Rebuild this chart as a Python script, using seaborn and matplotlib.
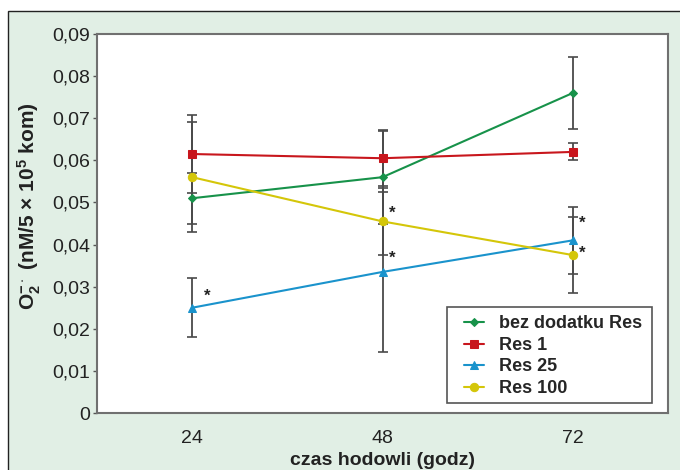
import matplotlib
matplotlib.use("Agg")
import matplotlib.pyplot as plt
from matplotlib.patches import Rectangle
from matplotlib.ticker import FuncFormatter, MultipleLocator
import pandas as pd
import seaborn as sns

hours = [24, 48, 72]
series = ["bez dodatku Res", "Res 1", "Res 25", "Res 100"]
values = {
    "bez dodatku Res": [0.051, 0.056, 0.076],
    "Res 1": [0.0615, 0.0605, 0.062],
    "Res 25": [0.025, 0.0335, 0.041],
    "Res 100": [0.056, 0.0455, 0.0375],
}
errors = {
    "bez dodatku Res": [0.006, 0.011, 0.0086],
    "Res 1": [0.0093, 0.0067, 0.002],
    "Res 25": [0.007, 0.019, 0.008],
    "Res 100": [0.013, 0.008, 0.009],
}
# asterisks: (series, hour)
stars = [("Res 25", 24), ("Res 100", 48), ("Res 25", 48), ("Res 25", 72), ("Res 100", 72)]
star_offsets = [(11, 8), (7, 6), (7, 10), (7, 12), (7, 1)]

colors = {"bez dodatku Res": "#17924a", "Res 1": "#c8161d",
          "Res 25": "#1a93cc", "Res 100": "#d4c609"}
markers = {"bez dodatku Res": "D", "Res 1": "s", "Res 25": "^", "Res 100": "o"}
msizes = {"bez dodatku Res": 4, "Res 1": 6, "Res 25": 6, "Res 100": 6}

df = pd.DataFrame([(s, h, v) for s in series for h, v in zip(hours, values[s])],
                  columns=["series", "hour", "value"])

sns.set_style("white")
plt.rcParams["font.family"] = ["Liberation Sans", "DejaVu Sans"]
plt.rcParams["mathtext.fontset"] = "custom"
plt.rcParams["mathtext.rm"] = "Liberation Sans:bold"
plt.rcParams["mathtext.it"] = "Liberation Sans:bold"
plt.rcParams["mathtext.bf"] = "Liberation Sans:bold"

fig = plt.figure(figsize=(6.8, 4.7), dpi=100, facecolor="white")
bg = Rectangle((8 / 680, -0.01), 1.0, (470 - 11) / 470 + 0.01,
               transform=fig.transFigure, facecolor="#e1efe5",
               edgecolor="#222222", linewidth=1.0, zorder=-5)
fig.add_artist(bg)
ax = fig.add_axes([97 / 680, 57 / 470, 571 / 680, 379 / 470])
ax.set_facecolor("white")

# error bars first (behind lines)
for s in series:
    ax.errorbar(hours, values[s], yerr=errors[s], fmt="none", ecolor="#4a4a4a",
                elinewidth=1.3, capsize=3.5, capthick=1.2, zorder=1)

for s in series:
    sub = df[df["series"] == s]
    sns.lineplot(data=sub, x="hour", y="value", ax=ax, color=colors[s],
                 marker=markers[s], markersize=msizes[s], markeredgecolor=colors[s],
                 linewidth=1.5, label=s, errorbar=None, zorder=3)

for (s, h), (dx, dy) in zip(stars, star_offsets):
    ax.annotate("*", xy=(h, values[s][hours.index(h)]), xytext=(dx, dy),
                textcoords="offset points", fontsize=12, fontweight="bold",
                color="#222222", ha="center", va="center")

ax.set_xlim(12, 84)
ax.set_ylim(0, 0.09)
ax.set_xticks(hours)
ax.set_xticklabels([str(h) for h in hours])
ax.yaxis.set_major_locator(MultipleLocator(0.01))
ax.yaxis.set_major_formatter(FuncFormatter(
    lambda v, _: "0" if abs(v) < 1e-9 else f"{v:.2f}".replace(".", ",")))
ax.tick_params(axis="y", length=3, width=1, color="#555555", labelsize=14,
               labelcolor="#222222", left=True, pad=2)
ax.tick_params(axis="x", length=0, labelsize=14, labelcolor="#222222", pad=12)

for side in ["left", "bottom", "top", "right"]:
    ax.spines[side].set_color("#707070")
    ax.spines[side].set_linewidth(1.5)

ax.set_xlabel("czas hodowli (godz)", fontsize=14, fontweight="bold",
              color="#222222", labelpad=4)
ax.set_ylabel(r"$\mathrm{O_2^{-\cdot}}$ (nM/5 × 10$^5$ kom)", fontsize=15,
              fontweight="bold", color="#222222")
ax.yaxis.set_label_coords(-0.095, 0.545)

# legend box drawn separately so the side padding can be wider than top/bottom
ax.add_patch(Rectangle((0.613, 0.026), 0.359, 0.254, transform=ax.transAxes,
                       facecolor="white", edgecolor="#555555", linewidth=1.2,
                       zorder=4))
leg = ax.legend(loc="lower right", bbox_to_anchor=(0.9685, 0.021), frameon=False,
                prop={"weight": "bold", "size": 13}, handlelength=1.15,
                borderpad=0.45, labelspacing=0.25, handletextpad=0.8,
                borderaxespad=0)
leg.set_zorder(5)

fig.savefig("out.png", dpi=100, facecolor=fig.get_facecolor())
